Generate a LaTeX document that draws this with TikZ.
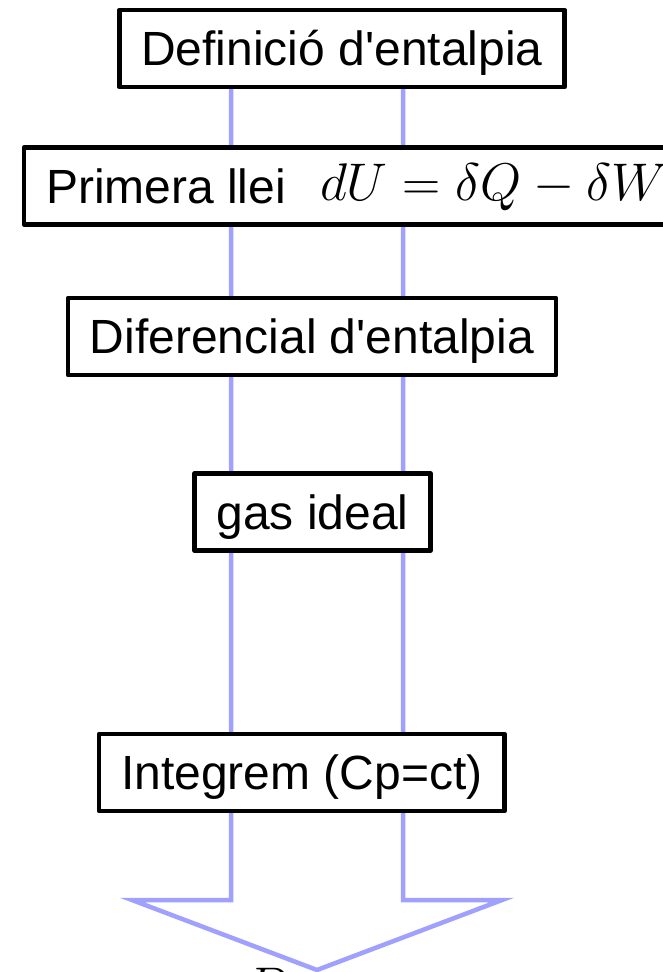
\RequirePackage{fix-cm}
\documentclass[tikz,border=0pt]{standalone}
\usepackage[no-math]{fontspec}
\setmainfont{Liberation Sans}
\usepackage{xcolor}
\usetikzlibrary{backgrounds}
\definecolor{flowblue}{RGB}{160,160,255}

\begin{document}
\begin{tikzpicture}[x=1pt,y=-1pt,
  stepbox/.style={draw, line width=4.5pt, line join=round, fill=white, outer sep=0pt,
    inner xsep=22pt, minimum height=77pt, text height=44pt, text depth=10pt,
    font=\fontsize{48}{56}\selectfont},
  flow/.style={draw=flowblue, line width=4.5pt}]
  \useasboundingbox (0,0) rectangle (663,972);
  % steps
  \node[stepbox] (def) at (342,48.5) {Definició d\textquotesingle entalpia};
  \node[stepbox, anchor=west] (llei) at (24,186)
    {Primera llei\hspace{34pt}\raisebox{3pt}{\fontsize{53}{60}\selectfont$dU=\delta Q-\delta W$}};
  \node[stepbox] (dif) at (312,336.5) {Diferencial d\textquotesingle entalpia};
  \node[stepbox] (gas) at (312.5,512) {gas ideal};
  \node[stepbox, anchor=west] (integ) at (99,772.5) {Integrem (Cp=ct)};
  \node[anchor=north west, inner sep=0pt, font=\fontsize{53}{60}\selectfont] (res) at (245,968) {$D$};
  % big arrow behind the boxes
  \coordinate (shaftL) at (231,0);
  \coordinate (shaftR) at (403,0);
  \coordinate (headL) at (132,900);
  \coordinate (headR) at (502,900);
  \coordinate (tip) at (317,970);
  \begin{scope}[on background layer]
    \draw[flow] (def.center -| shaftL) -- (shaftL |- headL) -- (headL) -- (tip)
      -- (headR) -- (shaftR |- headR) -- (def.center -| shaftR) -- cycle;
  \end{scope}
\end{tikzpicture}
\end{document}
